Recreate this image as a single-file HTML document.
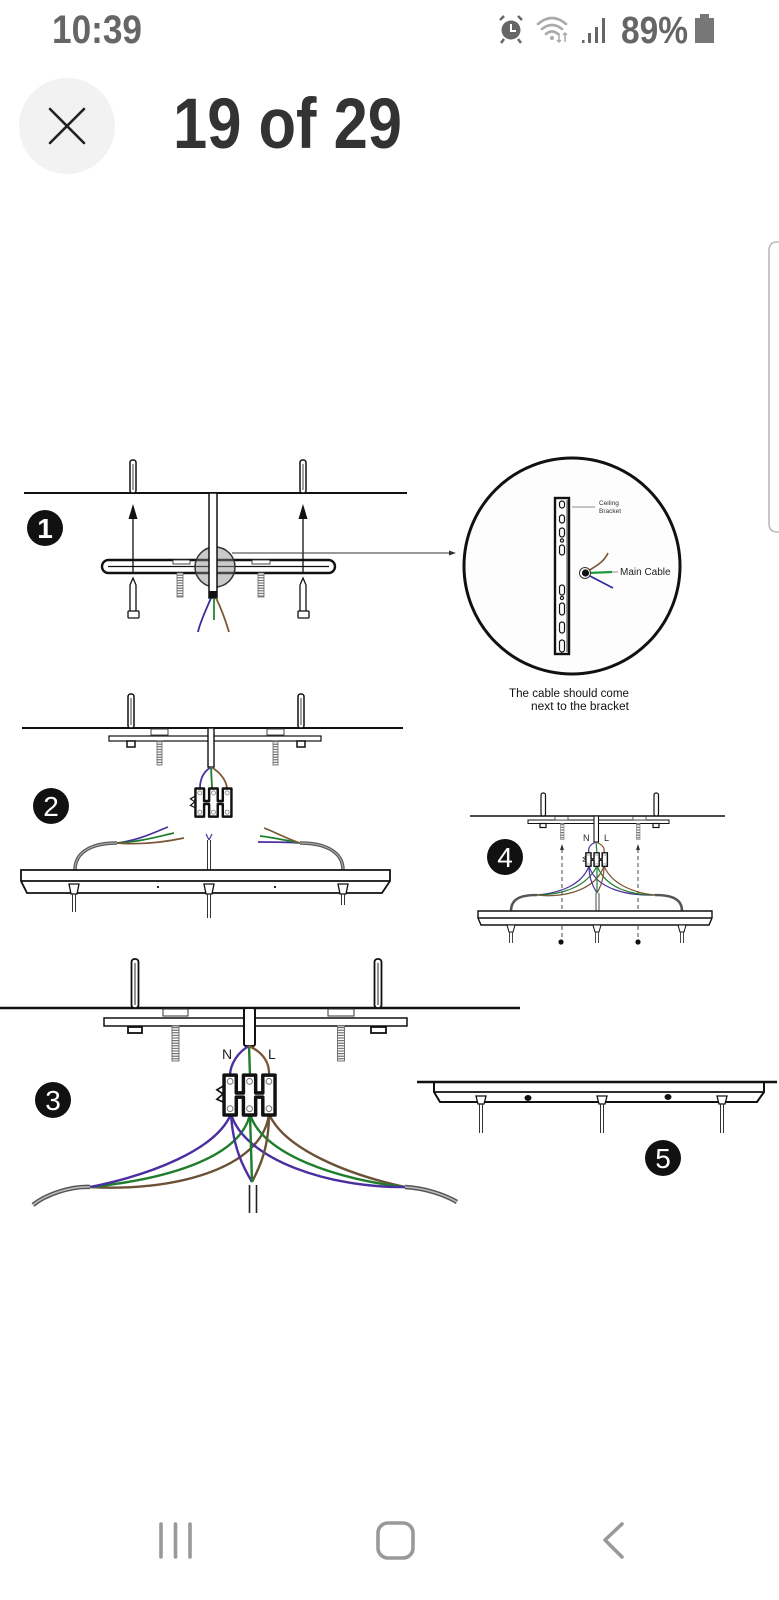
<!DOCTYPE html>
<html>
<head>
<meta charset="utf-8">
<style>
html,body{margin:0;padding:0;background:#fff;}
svg{display:block;}
text{font-family:"Liberation Sans",sans-serif;}
</style>
</head>
<body>
<svg width="779" height="1600" viewBox="0 0 779 1600" xmlns="http://www.w3.org/2000/svg">
<defs>
  <pattern id="thr" width="6" height="2.6" patternUnits="userSpaceOnUse">
    <rect width="6" height="2.6" fill="#fff"/>
    <line x1="0" y1="0.6" x2="6" y2="0.6" stroke="#555" stroke-width="1"/>
  </pattern>
  <g id="conn">
    <path d="M2,2 H14 V19 H21 V2 H33 V19 H40 V2 H52 V40 H40 V23 H33 V40 H21 V23 H14 V40 H2 Z" fill="#fff" stroke="#111" stroke-width="3.4" stroke-linejoin="round"/>
    <g fill="none" stroke="#777" stroke-width="1">
      <circle cx="8" cy="8" r="2.8"/><circle cx="27" cy="8" r="2.8"/><circle cx="46" cy="8" r="2.8"/>
      <circle cx="8" cy="34" r="2.8"/><circle cx="27" cy="34" r="2.8"/><circle cx="46" cy="34" r="2.8"/>
    </g>
    <path d="M2,12 L-5,16 L1,20 L-5,25 L2,28" fill="none" stroke="#111" stroke-width="1.6"/>
  </g>
</defs>

<!-- STATUS BAR -->
<text x="52" y="43" font-size="40" font-weight="bold" fill="#666" textLength="90" lengthAdjust="spacingAndGlyphs">10:39</text>
<g fill="#666" stroke="#666">
  <circle cx="511" cy="30" r="9.5" stroke="none"/>
  <line x1="500" y1="20" x2="504" y2="16" stroke-width="2.5"/>
  <line x1="522" y1="20" x2="518" y2="16" stroke-width="2.5"/>
  <line x1="504" y1="39" x2="501" y2="43" stroke-width="2.5"/>
  <line x1="518" y1="39" x2="521" y2="43" stroke-width="2.5"/>
  <path d="M511,24 V31 H516" fill="none" stroke="#fff" stroke-width="2"/>
</g>
<g fill="none" stroke="#aaa" stroke-width="2.6" stroke-linecap="round">
  <path d="M538,24 Q552,12 566,24"/>
  <path d="M542,29 Q552,21 562,29"/>
  <path d="M546,34 Q552,29 558,34"/>
</g>
<circle cx="552" cy="38" r="2" fill="#aaa"/>
<g stroke="#aaa" stroke-width="1.5" fill="none">
  <path d="M559,33 V42 M557,40 L559,42 L561,40"/>
  <path d="M565,42 V33 M563,35 L565,33 L567,35"/>
</g>
<g fill="#666">
  <rect x="582" y="40" width="2.5" height="3"/>
  <rect x="588" y="33" width="3" height="10"/>
  <rect x="595" y="27" width="3" height="16"/>
  <rect x="602" y="18" width="3" height="25"/>
</g>
<text x="621" y="43" font-size="38" font-weight="bold" fill="#666" textLength="67" lengthAdjust="spacingAndGlyphs">89%</text>
<rect x="700" y="14" width="9" height="5" fill="#777"/>
<rect x="695" y="18" width="19" height="25" fill="#777"/>

<!-- HEADER -->
<circle cx="67" cy="126" r="48" fill="#f2f2f2"/>
<g stroke="#222" stroke-width="2.6" stroke-linecap="round">
  <line x1="50" y1="109" x2="84" y2="143"/>
  <line x1="84" y1="109" x2="50" y2="143"/>
</g>
<text x="173" y="148" font-size="71" font-weight="bold" fill="#333" textLength="229" lengthAdjust="spacingAndGlyphs">19 of 29</text>

<path d="M779,242 H777 Q769,242 769,251 V523 Q769,532 777,532 H779" fill="#fff" stroke="#bbb" stroke-width="1.6"/>

<!-- ============ STEP 1 ============ -->
<line x1="24" y1="493" x2="407" y2="493" stroke="#111" stroke-width="2"/>
<g fill="#fff" stroke="#111" stroke-width="1.5">
  <rect x="130" y="460" width="6" height="33" rx="2.5"/>
  <rect x="300" y="460" width="6" height="33" rx="2.5"/>
</g>
<g stroke="#111" stroke-width="0.8">
  <line x1="133" y1="464" x2="133" y2="490"/>
  <line x1="303" y1="464" x2="303" y2="490"/>
</g>
<rect x="102" y="560" width="233" height="13" rx="6.5" fill="#fff" stroke="#111" stroke-width="2.4"/>
<line x1="108" y1="566.5" x2="329" y2="566.5" stroke="#111" stroke-width="1.3"/>
<g fill="#fff" stroke="#333" stroke-width="0.9">
  <rect x="173" y="560" width="17" height="4"/>
  <rect x="252" y="560" width="18" height="4"/>
</g>
<rect x="177" y="573" width="6" height="24" fill="url(#thr)" stroke="#666" stroke-width="0.8"/>
<rect x="258" y="573" width="6" height="24" fill="url(#thr)" stroke="#666" stroke-width="0.8"/>
<g stroke="#111" stroke-width="1.3">
  <line x1="133" y1="574" x2="133" y2="516"/>
  <line x1="303" y1="574" x2="303" y2="516"/>
</g>
<polygon points="133,504 128.5,519 137.5,519" fill="#111"/>
<polygon points="303,504 298.5,519 307.5,519" fill="#111"/>
<g fill="#fff" stroke="#111" stroke-width="1.3">
  <path d="M130,612 V585 L133,578 L136,585 V612 Z"/>
  <rect x="128" y="611" width="11" height="7" rx="1"/>
  <path d="M300,612 V585 L303,578 L306,585 V612 Z"/>
  <rect x="298" y="611" width="11" height="7" rx="1"/>
</g>
<circle cx="215" cy="567" r="20" fill="#8a8a8a" fill-opacity="0.45" stroke="#333" stroke-width="1.5"/>
<rect x="209" y="493" width="8" height="105" fill="#fff" stroke="#111" stroke-width="1.5"/>
<rect x="209" y="591" width="8" height="7" fill="#111"/>
<g fill="none" stroke-width="1.8">
  <path d="M211,598 C206,610 200,622 198,632" stroke="#3a2a9a"/>
  <path d="M214,598 L214,620" stroke="#1e8a2e"/>
  <path d="M216,598 C222,610 226,622 229,632" stroke="#7b5634"/>
</g>
<line x1="232" y1="553" x2="450" y2="553" stroke="#333" stroke-width="0.9"/>
<polygon points="456,553 449,550.5 449,555.5" fill="#333"/>
<circle cx="45" cy="528" r="18" fill="#111"/>
<text x="45" y="538" font-size="28" font-weight="bold" fill="#fff" text-anchor="middle">1</text>

<!-- detail circle -->
<circle cx="572" cy="566" r="108" fill="#fdfdfd" stroke="#111" stroke-width="3"/>
<rect x="555" y="498" width="14" height="156" fill="#fff" stroke="#111" stroke-width="2.4"/>
<line x1="567" y1="500" x2="567" y2="652" stroke="#111" stroke-width="0.8"/>
<g fill="#fff" stroke="#111" stroke-width="1.2">
  <rect x="559.5" y="501" width="5" height="7" rx="2.5"/>
  <rect x="559.5" y="515" width="5" height="8" rx="2.5"/>
  <rect x="559.5" y="528" width="5" height="9" rx="2.5"/>
  <circle cx="562" cy="540.5" r="1.6"/>
  <rect x="559.5" y="545" width="5" height="10" rx="2.5"/>
  <rect x="559.5" y="585" width="5" height="10" rx="2.5"/>
  <circle cx="562" cy="598" r="1.6"/>
  <rect x="559.5" y="603" width="5" height="12" rx="2.5"/>
  <rect x="559.5" y="622" width="5" height="11" rx="2.5"/>
  <rect x="559.5" y="640" width="5" height="12" rx="2.5"/>
</g>
<line x1="572" y1="507" x2="595" y2="507" stroke="#666" stroke-width="0.8"/>
<text x="599" y="505" font-size="6.5" fill="#333">Ceiling</text>
<text x="599" y="513" font-size="6.5" fill="#333">Bracket</text>
<g fill="none" stroke-width="1.6">
  <path d="M588,571 C596,566 604,562 608,553" stroke="#7b5634"/>
  <path d="M588,573 L612,572" stroke="#1e9a3e" stroke-width="2.2"/>
  <path d="M588,575 L613,588" stroke="#2a2a9a"/>
</g>
<circle cx="585" cy="573" r="5.5" fill="#fff" stroke="#333" stroke-width="1"/>
<circle cx="585.5" cy="573" r="3.6" fill="#111"/>
<line x1="612" y1="572" x2="618" y2="572" stroke="#777" stroke-width="0.8"/>
<text x="620" y="575" font-size="10" fill="#222">Main Cable</text>
<text x="509" y="697" font-size="11.5" fill="#111" textLength="120" lengthAdjust="spacingAndGlyphs">The cable should come</text>
<text x="531" y="710" font-size="11.5" fill="#111" textLength="98" lengthAdjust="spacingAndGlyphs">next to the bracket</text>

<!-- ============ STEP 2 ============ -->
<line x1="22" y1="728" x2="403" y2="728" stroke="#111" stroke-width="2"/>
<g fill="#fff" stroke="#111" stroke-width="1.5">
  <rect x="128" y="694" width="6" height="34" rx="2.5"/>
  <rect x="298" y="694" width="6" height="34" rx="2.5"/>
</g>
<g stroke="#111" stroke-width="0.8">
  <line x1="131" y1="698" x2="131" y2="725"/>
  <line x1="301" y1="698" x2="301" y2="725"/>
</g>
<rect x="109" y="736" width="212" height="5" fill="#fff" stroke="#111" stroke-width="1.2"/>
<g fill="#fff" stroke="#333" stroke-width="0.9">
  <rect x="151" y="729" width="17" height="6"/>
  <rect x="267" y="729" width="17" height="6"/>
</g>
<g fill="#fff" stroke="#111" stroke-width="1.5">
  <rect x="127" y="741" width="8" height="6"/>
  <rect x="297" y="741" width="8" height="6"/>
</g>
<rect x="157" y="741" width="5" height="24" fill="url(#thr)" stroke="#666" stroke-width="0.8"/>
<rect x="273" y="741" width="5" height="24" fill="url(#thr)" stroke="#666" stroke-width="0.8"/>
<rect x="208" y="728" width="6" height="39" fill="#fff" stroke="#111" stroke-width="1.4"/>
<g fill="none" stroke-width="1.8">
  <path d="M211,767 C203,772 200,780 200,788" stroke="#4b2fa0"/>
  <path d="M211,767 L212,788" stroke="#1e7e2c"/>
  <path d="M211,767 C220,772 226,780 227,788" stroke="#7b5634"/>
</g>
<use href="#conn" transform="translate(194,787) scale(0.72,0.74)"/>
<circle cx="51" cy="806" r="18" fill="#111"/>
<text x="51" y="816" font-size="28" fill="#fff" text-anchor="middle">2</text>
<path d="M75,870 C75,850 95,843 117,843" fill="none" stroke="#555" stroke-width="3.5"/>
<path d="M75,870 C75,850 95,843 117,843" fill="none" stroke="#aaa" stroke-width="1.2"/>
<path d="M343,870 C343,850 322,843 300,843" fill="none" stroke="#555" stroke-width="3.5"/>
<path d="M343,870 C343,850 322,843 300,843" fill="none" stroke="#aaa" stroke-width="1.2"/>
<g fill="none" stroke-width="1.7">
  <path d="M117,843 C140,840 155,832 168,827" stroke="#4b2fa0"/>
  <path d="M117,843 C140,842 160,836 174,833" stroke="#1e7e2c"/>
  <path d="M117,843 C140,845 165,842 184,838" stroke="#7b5634"/>
  <path d="M300,843 C285,842 268,842 258,842" stroke="#4b2fa0"/>
  <path d="M300,843 C285,840 270,837 260,836" stroke="#1e7e2c"/>
  <path d="M300,843 C285,838 275,832 264,828" stroke="#7b5634"/>
  <path d="M209,840 L206,834 M209,840 L212,834" stroke="#4b2fa0" stroke-width="1.2"/>
</g>
<g stroke="#333" stroke-width="1">
  <line x1="207.5" y1="840" x2="207.5" y2="870"/>
  <line x1="210.5" y1="840" x2="210.5" y2="870"/>
</g>
<path d="M21,870 H390 V881 L382,893 H27 L21,881 Z" fill="#fff" stroke="#111" stroke-width="1.8"/>
<line x1="21" y1="881" x2="390" y2="881" stroke="#111" stroke-width="1.8"/>
<circle cx="158" cy="887" r="1.1" fill="#111"/>
<circle cx="275" cy="887" r="1.1" fill="#111"/>
<g fill="#fff" stroke="#111" stroke-width="1.3">
  <path d="M69,884 H79 L77,894 H71 Z"/>
  <path d="M204,884 H214 L212,894 H206 Z"/>
  <path d="M338,884 H348 L346,894 H340 Z"/>
</g>
<g stroke="#333" stroke-width="1">
  <line x1="72.5" y1="894" x2="72.5" y2="912"/><line x1="75.5" y1="894" x2="75.5" y2="912"/>
  <line x1="207.5" y1="894" x2="207.5" y2="918"/><line x1="210.5" y1="894" x2="210.5" y2="918"/>
  <line x1="341.5" y1="894" x2="341.5" y2="905"/><line x1="344.5" y1="894" x2="344.5" y2="905"/>
</g>

<!-- ============ STEP 4 ============ -->
<line x1="470" y1="816" x2="725" y2="816" stroke="#111" stroke-width="1.6"/>
<g fill="#fff" stroke="#111" stroke-width="1.2">
  <rect x="541" y="793" width="4.5" height="23" rx="2"/>
  <rect x="654" y="793" width="4.5" height="23" rx="2"/>
</g>
<rect x="528" y="820" width="141" height="3.5" fill="#fff" stroke="#111" stroke-width="1"/>
<g fill="#fff" stroke="#333" stroke-width="0.8">
  <rect x="555" y="816.5" width="13" height="3.5"/>
  <rect x="633" y="816.5" width="13" height="3.5"/>
</g>
<g fill="#fff" stroke="#111" stroke-width="1.2">
  <rect x="540" y="823.5" width="6" height="4"/>
  <rect x="653" y="823.5" width="6" height="4"/>
</g>
<rect x="560.5" y="823.5" width="3.5" height="16" fill="url(#thr)" stroke="#777" stroke-width="0.6"/>
<rect x="636.5" y="823.5" width="3.5" height="16" fill="url(#thr)" stroke="#777" stroke-width="0.6"/>
<rect x="594" y="816" width="4.5" height="26" fill="#fff" stroke="#111" stroke-width="1.1"/>
<text x="583" y="841" font-size="9" fill="#222">N</text>
<text x="604" y="841" font-size="9" fill="#222">L</text>
<g stroke="#333" stroke-width="0.9" stroke-dasharray="4 3">
  <line x1="562" y1="849" x2="562" y2="940"/>
  <line x1="638" y1="849" x2="638" y2="940"/>
</g>
<polygon points="562,844 560,850 564,850" fill="#333"/>
<polygon points="638,844 636,850 640,850" fill="#333"/>
<circle cx="561" cy="942" r="2.6" fill="#111"/>
<circle cx="638" cy="942" r="2.6" fill="#111"/>
<g fill="none" stroke-width="1.2">
  <path d="M596,842 C589,845 588,848 589,853" stroke="#4b2fa0"/>
  <path d="M596,842 L597,853" stroke="#1e7e2c"/>
  <path d="M596,842 C603,845 605,848 604,853" stroke="#7b5634"/>
  <path d="M589,866 C582,885 560,893 537,895" stroke="#4b2fa0"/>
  <path d="M597,866 C586,888 560,895 537,895" stroke="#1e7e2c"/>
  <path d="M604,866 C595,892 560,898 537,895" stroke="#7b5634"/>
  <path d="M589,866 C596,890 630,896 655,895" stroke="#4b2fa0"/>
  <path d="M597,866 C606,888 630,895 655,895" stroke="#1e7e2c"/>
  <path d="M604,866 C612,885 635,893 655,895" stroke="#7b5634"/>
  <path d="M589,866 C589,880 594,888 597,893" stroke="#4b2fa0"/>
  <path d="M604,866 C604,880 600,888 597,893" stroke="#7b5634"/>
  <path d="M597,866 L597,893" stroke="#1e7e2c"/>
</g>
<use href="#conn" transform="translate(585,852) scale(0.43,0.36)"/>
<path d="M511,911 C511,898 522,895 537,895" fill="none" stroke="#555" stroke-width="2.6"/>
<path d="M682,911 C682,898 670,895 655,895" fill="none" stroke="#555" stroke-width="2.6"/>
<g stroke="#333" stroke-width="0.9">
  <line x1="596" y1="893" x2="596" y2="911"/><line x1="599" y1="893" x2="599" y2="911"/>
</g>
<circle cx="505" cy="857" r="18" fill="#111"/>
<text x="505" y="867" font-size="28" fill="#fff" text-anchor="middle">4</text>
<path d="M478,911 H712 V918 L709,925 H481 L478,918 Z" fill="#fff" stroke="#111" stroke-width="1.4"/>
<line x1="478" y1="918" x2="712" y2="918" stroke="#111" stroke-width="1.4"/>
<g fill="#fff" stroke="#111" stroke-width="1">
  <path d="M507,925 H515 L513,932 H509 Z"/>
  <path d="M593,925 H601 L599,932 H595 Z"/>
  <path d="M678,925 H686 L684,932 H680 Z"/>
</g>
<g stroke="#333" stroke-width="0.9">
  <line x1="509.5" y1="932" x2="509.5" y2="943"/><line x1="512.5" y1="932" x2="512.5" y2="943"/>
  <line x1="595.5" y1="932" x2="595.5" y2="943"/><line x1="598.5" y1="932" x2="598.5" y2="943"/>
  <line x1="680.5" y1="932" x2="680.5" y2="943"/><line x1="683.5" y1="932" x2="683.5" y2="943"/>
</g>

<!-- ============ STEP 3 ============ -->
<line x1="0" y1="1008" x2="520" y2="1008" stroke="#111" stroke-width="2.5"/>
<g fill="#fff" stroke="#111" stroke-width="1.8">
  <rect x="131.5" y="959" width="7" height="49" rx="3"/>
  <rect x="374.5" y="959" width="7" height="49" rx="3"/>
</g>
<g stroke="#111" stroke-width="0.9">
  <line x1="135" y1="963" x2="135" y2="1005"/>
  <line x1="378" y1="963" x2="378" y2="1005"/>
</g>
<rect x="104" y="1018" width="303" height="8" fill="#fff" stroke="#111" stroke-width="1.5"/>
<g fill="#fff" stroke="#333" stroke-width="1">
  <rect x="163" y="1009" width="25" height="7"/>
  <rect x="328" y="1009" width="26" height="7"/>
</g>
<g fill="#fff" stroke="#111" stroke-width="1.8">
  <rect x="128" y="1027" width="14" height="6"/>
  <rect x="371" y="1027" width="15" height="6"/>
</g>
<rect x="172" y="1026" width="7" height="35" fill="url(#thr)" stroke="#666" stroke-width="0.9"/>
<rect x="337.5" y="1026" width="7" height="35" fill="url(#thr)" stroke="#666" stroke-width="0.9"/>
<rect x="244" y="1008" width="11" height="38" rx="2" fill="#fff" stroke="#111" stroke-width="2"/>
<text x="222" y="1059" font-size="14" fill="#222">N</text>
<text x="268" y="1059" font-size="14" fill="#222">L</text>
<g fill="none" stroke-width="2.4">
  <path d="M249,1046 C238,1052 230,1064 230,1076" stroke="#4b2fa0"/>
  <path d="M249,1046 L250,1076" stroke="#1e7e2c"/>
  <path d="M249,1046 C262,1052 270,1062 269,1076" stroke="#7b5634"/>
  <path d="M269,1114 C262,1170 170,1192 90,1187" stroke="#6b5236"/>
  <path d="M250,1114 C240,1160 160,1180 90,1187" stroke="#1e7e2c"/>
  <path d="M231,1114 C216,1150 150,1175 90,1187" stroke="#4b2fa0"/>
  <path d="M269,1114 C285,1150 350,1175 405,1187" stroke="#6b5236"/>
  <path d="M250,1114 C262,1155 340,1180 405,1187" stroke="#1e7e2c"/>
  <path d="M231,1114 C245,1160 330,1188 405,1187" stroke="#4b2fa0"/>
  <path d="M231,1114 C233,1150 245,1170 252,1182" stroke="#4b2fa0"/>
  <path d="M269,1114 C269,1150 258,1170 252,1182" stroke="#6b5236"/>
  <path d="M250,1114 L252,1182" stroke="#1e7e2c"/>
</g>
<use href="#conn" transform="translate(222,1073) scale(1.02,1.05)"/>
<g stroke="#222" stroke-width="1.6">
  <line x1="249.5" y1="1185" x2="249.5" y2="1213"/>
  <line x1="256.5" y1="1185" x2="256.5" y2="1213"/>
</g>
<path d="M90,1187 C70,1186 45,1195 33,1205" fill="none" stroke="#555" stroke-width="4.5"/>
<path d="M90,1187 C70,1186 45,1195 33,1205" fill="none" stroke="#bbb" stroke-width="1.6"/>
<path d="M405,1187 C425,1188 445,1195 457,1202" fill="none" stroke="#555" stroke-width="4.5"/>
<path d="M405,1187 C425,1188 445,1195 457,1202" fill="none" stroke="#bbb" stroke-width="1.6"/>
<circle cx="53" cy="1100" r="18" fill="#111"/>
<text x="53" y="1110" font-size="28" fill="#fff" text-anchor="middle">3</text>

<!-- ============ STEP 5 ============ -->
<path d="M434,1082 V1092 L440,1102 H757 L764,1092 V1082" fill="#fff" stroke="#111" stroke-width="2"/>
<line x1="434" y1="1092" x2="764" y2="1092" stroke="#111" stroke-width="1.8"/>
<line x1="417" y1="1082" x2="777" y2="1082" stroke="#111" stroke-width="2.5"/>
<ellipse cx="528" cy="1098" rx="3.5" ry="3" fill="#111"/>
<ellipse cx="668" cy="1097" rx="3.5" ry="3" fill="#111"/>
<g fill="#fff" stroke="#111" stroke-width="1.3">
  <path d="M476,1096 H486 L484,1104 H478 Z"/>
  <path d="M597,1096 H607 L605,1104 H599 Z"/>
  <path d="M717,1096 H727 L725,1104 H719 Z"/>
</g>
<g stroke="#333" stroke-width="1">
  <line x1="479.5" y1="1104" x2="479.5" y2="1133"/><line x1="482.5" y1="1104" x2="482.5" y2="1133"/>
  <line x1="600.5" y1="1104" x2="600.5" y2="1133"/><line x1="603.5" y1="1104" x2="603.5" y2="1133"/>
  <line x1="720.5" y1="1104" x2="720.5" y2="1133"/><line x1="723.5" y1="1104" x2="723.5" y2="1133"/>
</g>
<circle cx="663" cy="1158" r="18" fill="#111"/>
<text x="663" y="1168" font-size="28" fill="#fff" text-anchor="middle">5</text>

<!-- NAV BAR -->
<g stroke="#999" stroke-width="3.6" stroke-linecap="round" fill="none">
  <line x1="161" y1="1524" x2="161" y2="1557"/>
  <line x1="175.5" y1="1524" x2="175.5" y2="1557"/>
  <line x1="190" y1="1524" x2="190" y2="1557"/>
  <rect x="378" y="1523" width="35" height="35" rx="10"/>
  <polyline points="622,1524 605,1540 622,1557" stroke-linejoin="round"/>
</g>
</svg>
</body>
</html>
